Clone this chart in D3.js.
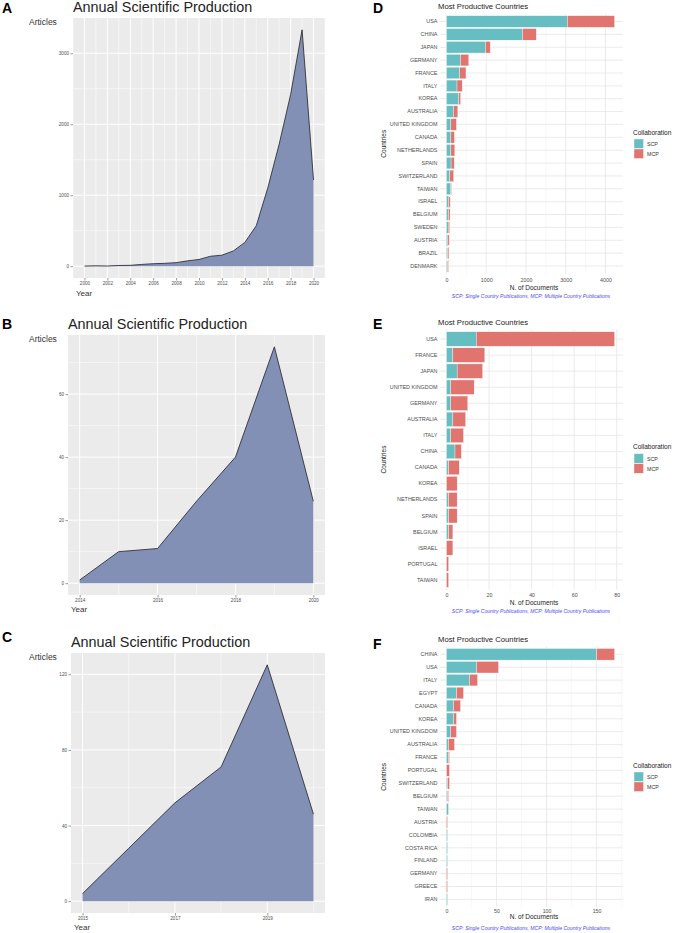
<!DOCTYPE html>
<html><head><meta charset="utf-8">
<script src="https://cdn.jsdelivr.net/npm/d3@7"></script>
<style>
body{margin:0;background:#fff}
svg{display:block}
text{font-family:"Liberation Sans",Arial,Helvetica,sans-serif}
</style>
</head><body>
<svg id="c" width="673" height="933"></svg>
<script>
// ---------- DATA ----------
const yearsA = [2000,2001,2002,2003,2004,2005,2006,2007,2008,2009,2010,2011,2012,2013,2014,2015,2016,2017,2018,2019,2020];
const articlesA = [2,5,3,10,12,25,35,40,50,75,95,140,155,215,335,570,1100,1720,2420,3330,1215];
const xTicksA = [2000,2002,2004,2006,2008,2010,2012,2014,2016,2018,2020];
const yTicksA = [0,1000,2000,3000];

const yearsB = [2014,2015,2016,2017,2018,2019,2020];
const articlesB = [1,10,11,26,40,75,26];
const xTicksB = [2014,2016,2018,2020];
const yTicksB = [0,20,40,60];

const yearsC = [2015,2016,2017,2018,2019,2020];
const articlesC = [4,28,52,71,125,46];
const xTicksC = [2015,2017,2019];
const yTicksC = [0,40,80,120];

const countriesD = ["USA","CHINA","JAPAN","GERMANY","FRANCE","ITALY","KOREA","AUSTRALIA","UNITED KINGDOM","CANADA","NETHERLANDS","SPAIN","SWITZERLAND","TAIWAN","ISRAEL","BELGIUM","SWEDEN","AUSTRIA","BRAZIL","DENMARK"];
const scpD = [3040,1910,980,350,330,265,310,175,110,110,110,115,85,110,60,50,45,35,30,25];
const mcpD = [1190,350,120,210,160,130,45,110,140,90,100,80,95,15,35,40,35,35,30,25];
const xTicksD = [0,1000,2000,3000,4000];

const countriesE = ["USA","FRANCE","JAPAN","UNITED KINGDOM","GERMANY","AUSTRALIA","ITALY","CHINA","CANADA","KOREA","NETHERLANDS","SPAIN","BELGIUM","ISRAEL","PORTUGAL","TAIWAN"];
const scpE = [14,3,5,2,2,3,2,4,1,0,1,1,1,0,0,0];
const mcpE = [65,15,12,11,8,6,6,3,5,5,4,4,2,3,1,1];
const xTicksE = [0,20,40,60,80];

const countriesF = ["CHINA","USA","ITALY","EGYPT","CANADA","KOREA","UNITED KINGDOM","AUSTRALIA","FRANCE","PORTUGAL","SWITZERLAND","BELGIUM","TAIWAN","AUSTRIA","COLOMBIA","COSTA RICA","FINLAND","GERMANY","GREECE","IRAN"];
const scpF = [150,30,23,10,7,7,4,2,2,0,1,1,2,0,1,1,1,0,0,1];
const mcpF = [18,22,8,7,7,3,6,6,1,3,2,1,0,1,0,0,0,1,1,0];
const xTicksF = [0,50,100,150];

const seriesKeys = ["SCP","MCP"];
const caption = "SCP: Single Country Publications, MCP: Multiple Country Publications";

// ---------- DRAWING ----------
const svg = d3.select("#c");
const SCP_COL = "#67BEC2", MCP_COL = "#E0756F", AREA_COL = "#8390B6";

function minorBetween(ticks, lo, hi){
  const step = ticks[1]-ticks[0];
  const out = [];
  for (let v = ticks[0]-step/2; v <= hi; v += step) if (v >= lo) out.push(v);
  return out;
}

function drawArea(o){
  const g = svg.append("g");
  const minY = d3.min(o.years), maxY = d3.max(o.years);
  const padX = 0.05*(maxY-minY);
  const maxV = d3.max(o.values);
  const x = d3.scaleLinear().domain([minY-padX, maxY+padX]).range([o.left, o.right]);
  const y = d3.scaleLinear().domain([-0.05*maxV, maxV*1.05]).range([o.bottom, o.top]);
  g.append("rect").attr("x",o.left).attr("y",o.top).attr("width",o.right-o.left).attr("height",o.bottom-o.top).attr("fill","#EBEBEB");
  const [x0,x1] = x.domain(), [y0,y1] = y.domain();
  g.selectAll(null).data(minorBetween(o.yTicks,y0,y1)).join("line")
    .attr("x1",o.left).attr("x2",o.right).attr("y1",d=>y(d)).attr("y2",d=>y(d))
    .attr("stroke","#fff").attr("stroke-width",0.5);
  g.selectAll(null).data(minorBetween(o.xTicks,x0,x1)).join("line")
    .attr("y1",o.top).attr("y2",o.bottom).attr("x1",d=>x(d)).attr("x2",d=>x(d))
    .attr("stroke","#fff").attr("stroke-width",0.5);
  g.selectAll(null).data(o.yTicks).join("line")
    .attr("x1",o.left).attr("x2",o.right).attr("y1",d=>y(d)).attr("y2",d=>y(d))
    .attr("stroke","#fff").attr("stroke-width",1);
  g.selectAll(null).data(o.xTicks).join("line")
    .attr("y1",o.top).attr("y2",o.bottom).attr("x1",d=>x(d)).attr("x2",d=>x(d))
    .attr("stroke","#fff").attr("stroke-width",1);
  const pts = o.years.map((yr,i)=>({yr, v:o.values[i]}));
  g.append("path").datum(pts)
    .attr("d", d3.area().x(d=>x(d.yr)).y0(y(0)).y1(d=>y(d.v)))
    .attr("fill",AREA_COL);
  g.append("path").datum(pts)
    .attr("d", d3.line().x(d=>x(d.yr)).y(d=>y(d.v)))
    .attr("fill","none").attr("stroke","#222").attr("stroke-width",0.8);
  const ax = g.append("g").attr("transform",`translate(0,${o.bottom})`)
    .call(d3.axisBottom(x).tickValues(o.xTicks).tickFormat(d3.format("d")).tickSize(2.5).tickPadding(1.5));
  const ay = g.append("g").attr("transform",`translate(${o.left},0)`)
    .call(d3.axisLeft(y).tickValues(o.yTicks).tickFormat(d3.format("d")).tickSize(2.5).tickPadding(1.5));
  [ax,ay].forEach(a=>{
    a.select(".domain").remove();
    a.selectAll(".tick line").attr("stroke","#333").attr("stroke-width",0.5);
    a.selectAll(".tick text").attr("fill","#4D4D4D").style("font-size","4.6px").style("font-family","'Liberation Sans',Arial,sans-serif");
  });
  g.append("text").attr("x",o.left).attr("y",o.top-11).attr("dominant-baseline","central")
    .style("font-size","14.4px").attr("fill","#222").text("Annual Scientific Production");
  g.append("text").attr("x",29).attr("y",o.top+4).attr("dominant-baseline","central")
    .style("font-size","8.5px").attr("fill","#333").text("Articles");
  g.append("text").attr("x",o.left+3).attr("y",o.yearY).attr("dominant-baseline","central")
    .style("font-size","8px").attr("fill","#333").text("Year");
  g.append("text").attr("x",2).attr("y",o.letterY).attr("dominant-baseline","central")
    .style("font-size","14px").style("font-weight","bold").attr("fill","#000").text(o.letter);
}

function drawBars(o){
  const g = svg.append("g");
  const n = o.countries.length;
  const rows = o.countries.map((c,i)=>({country:c, SCP:o.scp[i], MCP:o.mcp[i]}));
  const maxT = d3.max(rows, d=>d.SCP+d.MCP);
  const x = d3.scaleLinear().domain([0, maxT*1.05]).range([446.5, 623]);
  const lastC = o.firstC + (n-1)*o.step;
  const yb = d3.scaleBand().domain(o.countries)
    .range([o.firstC - o.step/2, lastC + o.step/2]).paddingInner(0.1).paddingOuter(0.05);
  const pTop = o.firstC - 0.6*o.step, pBot = lastC + 0.6*o.step;
  const pLeft = 444.5, pRight = 623;
  const xMinor = minorBetween(o.xTicks, 0, maxT*1.05);
  g.selectAll(null).data(xMinor).join("line")
    .attr("x1",d=>x(d)).attr("x2",d=>x(d)).attr("y1",pTop).attr("y2",pBot)
    .attr("stroke","#F0F0F0").attr("stroke-width",0.5);
  g.selectAll(null).data(o.xTicks).join("line")
    .attr("x1",d=>x(d)).attr("x2",d=>x(d)).attr("y1",pTop).attr("y2",pBot)
    .attr("stroke","#E6E6E6").attr("stroke-width",0.8);
  g.selectAll(null).data(o.countries).join("line")
    .attr("x1",pLeft).attr("x2",pRight).attr("y1",d=>yb(d)+yb.bandwidth()/2).attr("y2",d=>yb(d)+yb.bandwidth()/2)
    .attr("stroke","#E6E6E6").attr("stroke-width",0.8);
  const stacked = d3.stack().keys(seriesKeys)(rows);
  const cols = {SCP:SCP_COL, MCP:MCP_COL};
  stacked.forEach(s=>{
    g.selectAll(null).data(s.filter(d=>d[1]-d[0]>0)).join("rect")
      .attr("x",d=>x(d[0])).attr("width",d=>x(d[1])-x(d[0]))
      .attr("y",d=>yb(d.data.country)).attr("height",yb.bandwidth())
      .attr("fill",cols[s.key]).attr("stroke","#fff").attr("stroke-width",0.35);
  });
  const ay = g.append("g").attr("transform",`translate(${pLeft},0)`)
    .call(d3.axisLeft(yb).tickSize(4).tickPadding(3));
  const ax = g.append("g").attr("transform",`translate(0,${o.tickY})`)
    .call(d3.axisBottom(x).tickValues(o.xTicks).tickFormat(d3.format("d")).tickSize(0).tickPadding(0));
  [ax,ay].forEach(a=>{
    a.select(".domain").remove();
    a.selectAll(".tick line").attr("stroke","#C8C8C8").attr("stroke-width",0.5);
    a.selectAll(".tick text").attr("fill","#4D4D4D").style("font-size","5.45px").style("font-family","'Liberation Sans',Arial,sans-serif");
  });
  ax.selectAll(".tick text").attr("dy",null).attr("y",0).attr("dominant-baseline","central").style("font-size","5.3px");
  g.append("text").attr("x",438).attr("y",o.titleY).attr("dominant-baseline","central")
    .style("font-size","7.7px").attr("fill","#222").text("Most Productive Countries");
  g.append("text").attr("x",534).attr("y",o.xTitleY).attr("text-anchor","middle").attr("dominant-baseline","central")
    .style("font-size","6.5px").attr("fill","#222").text("N. of Documents");
  g.append("text").attr("x",531).attr("y",o.capY).attr("text-anchor","middle").attr("dominant-baseline","central")
    .style("font-size","5.1px").style("font-style","italic").attr("fill","#4A4AF5").text(caption);
  g.append("text").attr("transform",`translate(383,${(pTop+pBot)/2}) rotate(-90)`)
    .attr("text-anchor","middle").attr("dominant-baseline","central")
    .style("font-size","6.5px").attr("fill","#222").text("Countries");
  g.append("text").attr("x",633).attr("y",o.legY).attr("dominant-baseline","central")
    .style("font-size","6.5px").attr("fill","#222").text("Collaboration");
  seriesKeys.forEach((k,i)=>{
    const ky = o.legY + 7 + i*10;
    g.append("rect").attr("x",634).attr("y",ky).attr("width",9.5).attr("height",9.5).attr("fill",cols[k]).attr("stroke","#fff").attr("stroke-width",0.4);
    g.append("text").attr("x",647).attr("y",ky+4.8).attr("dominant-baseline","central")
      .style("font-size","5.3px").attr("fill","#333").text(k);
  });
  g.append("text").attr("x",373).attr("y",o.letterY).attr("dominant-baseline","central")
    .style("font-size","14px").style("font-weight","bold").attr("fill","#000").text(o.letter);
}

drawArea({years:yearsA, values:articlesA, xTicks:xTicksA, yTicks:yTicksA, left:73, right:325, top:18, bottom:278, yearY:293, letter:"A", letterY:8});
drawArea({years:yearsB, values:articlesB, xTicks:xTicksB, yTicks:yTicksB, left:68, right:325, top:335, bottom:595, yearY:609.5, letter:"B", letterY:324});
drawArea({years:yearsC, values:articlesC, xTicks:xTicksC, yTicks:yTicksC, left:71, right:325, top:653, bottom:913, yearY:927, letter:"C", letterY:637});

drawBars({countries:countriesD, scp:scpD, mcp:mcpD, xTicks:xTicksD, firstC:21.5, step:12.87, titleY:6.3, tickY:280, xTitleY:287, capY:296, legY:132, letter:"D", letterY:8});
drawBars({countries:countriesE, scp:scpE, mcp:mcpE, xTicks:xTicksE, firstC:339, step:16.07, titleY:322, tickY:595, xTitleY:602.7, capY:611, legY:446.7, letter:"E", letterY:323.5});
drawBars({countries:countriesF, scp:scpF, mcp:mcpF, xTicks:xTicksF, firstC:654.3, step:12.9, titleY:639.3, tickY:910.7, xTitleY:916.7, capY:928.3, legY:765, letter:"F", letterY:643.5});
</script>
</body></html>
